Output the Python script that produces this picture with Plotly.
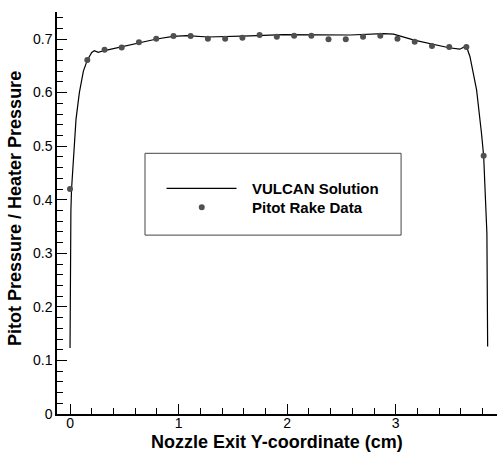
import plotly.graph_objects as go

# VULCAN Solution
vulcan_x = [0.0, 0.001, 0.003, 0.008, 0.014, 0.025, 0.037, 0.055, 0.086, 0.123, 0.16, 0.2,
            0.224, 0.26, 0.307, 0.46, 0.644, 0.798, 0.95, 1.075, 1.27, 1.505, 1.66, 1.965,
            2.27, 2.58, 2.886, 2.98, 3.17, 3.33, 3.49, 3.59, 3.65, 3.684, 3.745, 3.79, 3.81,
            3.84, 3.847]
vulcan_y = [0.123, 0.25, 0.343, 0.38, 0.42, 0.46, 0.5, 0.55, 0.6, 0.64, 0.661, 0.675,
            0.678, 0.675, 0.678, 0.6845, 0.6937, 0.700, 0.705, 0.7063, 0.7037, 0.7044, 0.706, 0.708,
            0.708, 0.7075, 0.710, 0.709, 0.698, 0.6907, 0.6837, 0.681, 0.687, 0.667, 0.605, 0.524, 0.482,
            0.337, 0.126]

# Pitot Rake Data
rake_x = [0.0, 0.159, 0.318, 0.476, 0.635, 0.794, 0.953, 1.111, 1.27, 1.429, 1.588, 1.746,
          1.905, 2.064, 2.223, 2.381, 2.54, 2.699, 2.858, 3.016, 3.175, 3.334, 3.493, 3.651, 3.81]
rake_y = [0.42, 0.661, 0.680, 0.684, 0.694, 0.7006, 0.7056, 0.7056, 0.7006, 0.7006, 0.7025, 0.7075,
          0.7044, 0.706, 0.706, 0.6994, 0.6994, 0.7044, 0.706, 0.7006, 0.695, 0.687, 0.685, 0.685, 0.482]

x_ticks = [0, 1, 2, 3]
y_ticks = [0, 0.1, 0.2, 0.3, 0.4, 0.5, 0.6, 0.7]
y_tick_labels = ["0", "0.1", "0.2", "0.3", "0.4", "0.5", "0.6", "0.7"]

legend_names = ["VULCAN Solution", "Pitot Rake Data"]
x_title = "Nozzle Exit Y-coordinate (cm)"
y_title = "Pitot Pressure / Heater Pressure"

FONT = "Liberation Sans, Arial, sans-serif"
MARKER_COLOR = "#505050"

fig = go.Figure()
fig.add_trace(go.Scatter(x=vulcan_x, y=vulcan_y, mode="lines", name=legend_names[0],
                         line=dict(color="black", width=1.2), showlegend=False))
fig.add_trace(go.Scatter(x=rake_x, y=rake_y, mode="markers", name=legend_names[1],
                         marker=dict(color=MARKER_COLOR, size=6), showlegend=False))

# legend drawn as a box (paper coordinates)
fig.add_shape(type="rect", xref="paper", yref="paper", x0=0.2, x1=0.782, y0=0.445, y1=0.6485,
              line=dict(color="#444444", width=1), fillcolor="rgba(0,0,0,0)")
fig.add_shape(type="line", xref="paper", yref="paper", x0=0.249, x1=0.408, y0=0.5614, y1=0.5614,
              line=dict(color="black", width=1.2))
fig.add_shape(type="circle", xref="paper", yref="paper",
              x0=0.329 - 3 / 440, x1=0.329 + 3 / 440, y0=0.514 - 3 / 402, y1=0.514 + 3 / 402,
              line=dict(color=MARKER_COLOR, width=0), fillcolor=MARKER_COLOR)
for name, yy in zip(legend_names, [0.5614, 0.514]):
    fig.add_annotation(text="<b>%s</b>" % name, xref="paper", yref="paper", x=0.4386, y=yy,
                       xanchor="left", yanchor="middle", showarrow=False,
                       font=dict(family=FONT, size=15, color="black"))

# axis titles
fig.add_annotation(text="<b>%s</b>" % x_title, xref="paper", yref="paper", x=0.4993, y=-0.0689,
                   xanchor="center", yanchor="middle", showarrow=False,
                   font=dict(family=FONT, size=18, color="black"))
fig.add_annotation(text="<b>%s</b>" % y_title, xref="paper", yref="paper", x=-0.0955, y=0.5124,
                   xanchor="center", yanchor="middle", showarrow=False, textangle=-90,
                   font=dict(family=FONT, size=18, color="black"))

fig.update_layout(
    width=497, height=454,
    margin=dict(l=57, r=0, t=12, b=40),
    paper_bgcolor="white", plot_bgcolor="white",
    font=dict(family=FONT, color="black"),
    hovermode=False,
)
fig.update_xaxes(
    range=[-0.12, 3.933], tickvals=x_ticks, ticktext=[str(v) for v in x_ticks],
    automargin=False, ticklabelstandoff=-5,
    showgrid=False, zeroline=False, showline=True, linecolor="black", linewidth=1.5,
    ticks="inside", ticklen=10, tickwidth=1.3, tickcolor="black",
    minor=dict(dtick=0.2, tick0=0, ticks="inside", ticklen=6, tickwidth=1, tickcolor="black", showgrid=False),
    tickfont=dict(family=FONT, size=14, color="black"),
)
fig.update_yaxes(
    range=[0, 0.7504], tickvals=y_ticks, ticktext=y_tick_labels,
    automargin=False,
    showgrid=False, zeroline=False, showline=True, linecolor="black", linewidth=1.5,
    ticks="inside", ticklen=10, tickwidth=1.3, tickcolor="black",
    minor=dict(dtick=0.02, tick0=0, ticks="inside", ticklen=6, tickwidth=1, tickcolor="black", showgrid=False),
    tickfont=dict(family=FONT, size=14, color="black"),
)

fig.write_html("out.html", config={"displayModeBar": False},
               post_script="document.body.style.margin='0px';")
